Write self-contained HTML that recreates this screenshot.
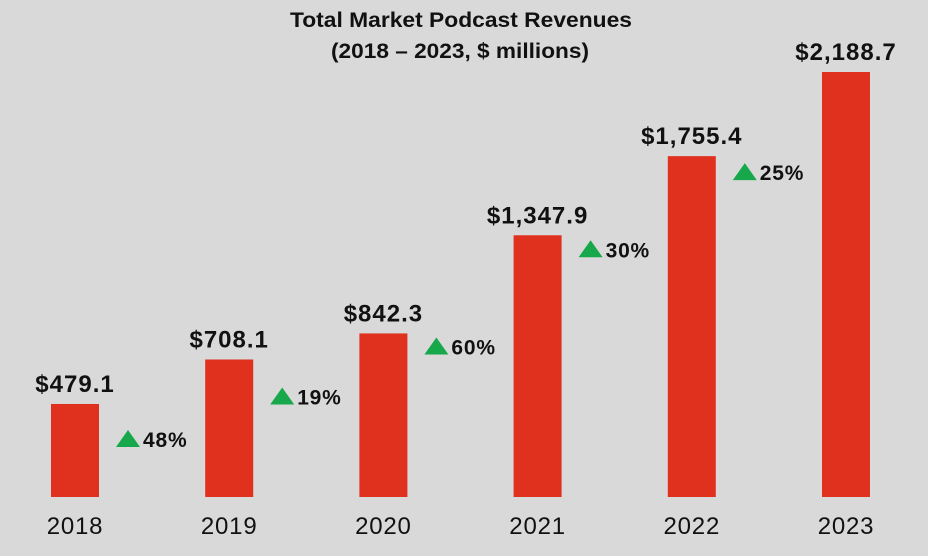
<!DOCTYPE html>
<html><head><meta charset="utf-8"><style>
body{margin:0;background:#d9d9d9;}
svg{display:block;font-family:"Liberation Sans",Arial,sans-serif;}
</style></head><body>
<svg id="c" width="928" height="556">
<rect width="928" height="556" fill="#d9d9d9"/>
<text x="461" y="27" text-anchor="middle" font-size="21" font-weight="bold" fill="#111" textLength="342" lengthAdjust="spacingAndGlyphs">Total Market Podcast Revenues</text>
<text x="460" y="58" text-anchor="middle" font-size="21" font-weight="bold" fill="#111" textLength="258" lengthAdjust="spacingAndGlyphs">(2018 – 2023, $ millions)</text>
</svg>
<script>
const years=["2018","2019","2020","2021","2022","2023"];
const revenues=[479.1,708.1,842.3,1347.9,1755.4,2188.7];
const valueLabels=["$479.1","$708.1","$842.3","$1,347.9","$1,755.4","$2,188.7"];
const growthLabels=["48%","19%","60%","30%","25%"];
const growthOffsets=[35,37,13,14,16];
const svg=document.getElementById('c');
const NS="http://www.w3.org/2000/svg";
const baseY=497, plotH=425, maxV=2188.7;
const yScale=v=>baseY-v/maxV*plotH;
const xCenter=i=>75+i*154.2;
const bw=48;
function mk(tag,attrs,txt){const e=document.createElementNS(NS,tag);for(const k in attrs)e.setAttribute(k,attrs[k]);if(txt!=null)e.textContent=txt;svg.appendChild(e);return e;}
revenues.forEach((v,i)=>{
  const cx=xCenter(i), top=yScale(v);
  const r=mk('rect',{x:cx-bw/2,y:top,width:bw,height:baseY-top,fill:'#e0301e'});
  
  
  const t=mk('text',{x:cx,y:top-12,'text-anchor':'middle','font-size':24,'font-weight':'bold',fill:'#111','letter-spacing':1},valueLabels[i]);
  
  
  const y=mk('text',{x:cx,y:534,'text-anchor':'middle','font-size':24,fill:'#111','letter-spacing':0.8},years[i]);
  
  
});
growthLabels.forEach((g,i)=>{
  const x0=xCenter(i)+bw/2+17, cy=yScale(revenues[i])+growthOffsets[i];
  const p=mk('polygon',{points:`${x0},${cy+8} ${x0+24},${cy+8} ${x0+12},${cy-9}`,fill:'#17a84b'});
  
  
  const t=mk('text',{x:x0+27,y:cy+8,'font-size':21,'font-weight':'bold',fill:'#111','letter-spacing':0.8},g);
  
  
});
</script>
</body></html>
